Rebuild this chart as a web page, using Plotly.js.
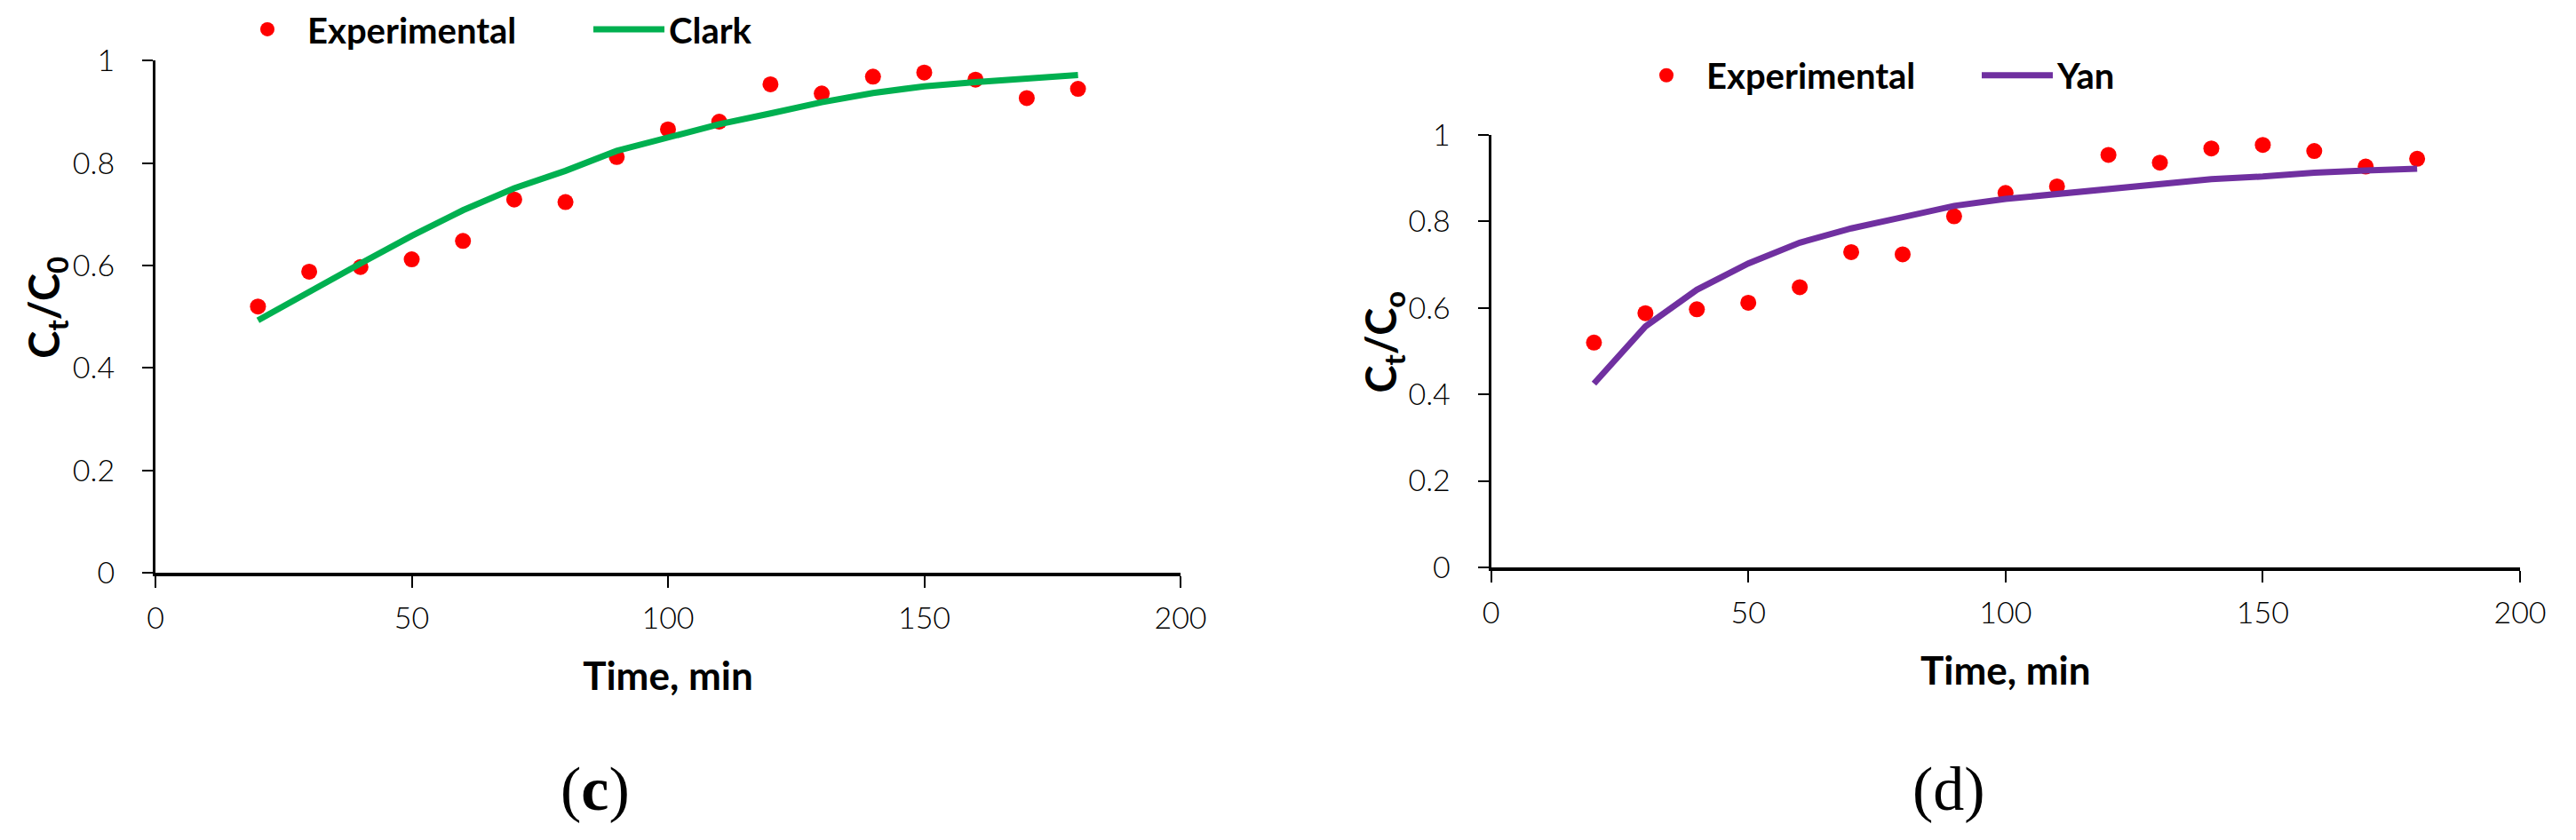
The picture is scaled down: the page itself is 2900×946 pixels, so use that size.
<!DOCTYPE html>
<html>
<head>
<meta charset="utf-8">
<script src="https://cdn.plot.ly/plotly-3.0.1.min.js"></script>
<style>html,body{margin:0;padding:0;background:#fff;}#chart{width:2900px;height:946px;}</style>
</head>
<body>
<div id="chart"></div>
<script>
// Data
const time = [20, 30, 40, 50, 60, 70, 80, 90, 100, 110, 120, 130, 140, 150, 160, 170, 180];
const experimental = [0.520, 0.588, 0.597, 0.612, 0.648, 0.729, 0.724, 0.812, 0.866, 0.881, 0.954, 0.936, 0.969, 0.977, 0.963, 0.927, 0.945];
const clark = [0.493, 0.550, 0.604, 0.658, 0.708, 0.751, 0.785, 0.824, 0.851, 0.876, 0.897, 0.919, 0.937, 0.950, 0.958, 0.965, 0.972];
const yan = [0.425, 0.557, 0.642, 0.703, 0.751, 0.784, 0.810, 0.836, 0.852, 0.864, 0.875, 0.889, 0.898, 0.904, 0.913, 0.918, 0.922];
const xTicks = [0, 50, 100, 150, 200];
const yTicks = [0, 0.2, 0.4, 0.6, 0.8, 1];
const yTickText = ["0", "0.2", "0.4", "0.6", "0.8", "1"];
const xTitle = "Time, min";
const yTitleC = "C<sub>t</sub>/C<sub>0</sub>";
const yTitleD = "C<sub>t</sub>/C<sub>o</sub>";
const panelLabels = ["(<b>c</b>)", "(d)"];

const RED = "#FF0000", GREEN = "#00B050", PURPLE = "#7030A0";
const FAM = "Lato, 'Open Sans', sans-serif";
const tickFont = {family: FAM, size: 34, color: "#000", weight: 300};
const legendFont = {family: FAM, size: 40, color: "#000", weight: 700};
const titleFont = {family: FAM, size: 44, color: "#000", weight: 700};
const yTitleFont = {family: FAM, size: 47, color: "#000", weight: 700};

const traces = [
  {x: time, y: experimental, type: "scatter", mode: "markers", name: "Experimental",
   marker: {color: RED, size: 18}, xaxis: "x", yaxis: "y", legend: "legend"},
  {x: time, y: clark, type: "scatter", mode: "lines", name: "Clark",
   line: {color: GREEN, width: 7}, xaxis: "x", yaxis: "y", legend: "legend"},
  {x: time, y: experimental, type: "scatter", mode: "markers", name: "Experimental",
   marker: {color: RED, size: 18}, xaxis: "x2", yaxis: "y2", legend: "legend2"},
  {x: time, y: yan, type: "scatter", mode: "lines", name: "Yan",
   line: {color: PURPLE, width: 7}, xaxis: "x2", yaxis: "y2", legend: "legend2"}
];

function xAxis(domain, anchor) {
  return {
    domain: domain, anchor: anchor, range: [0, 200], tickvals: xTicks,
    showline: true, linecolor: "#000", linewidth: 4, mirror: false,
    ticks: "outside", ticklen: 13, tickwidth: 2, tickcolor: "#000",
    showgrid: false, zeroline: false, tickfont: tickFont, ticklabelstandoff: 5,
    title: {text: xTitle, font: titleFont, standoff: 33},
    automargin: false
  };
}
function yAxis(domain, anchor) {
  return {
    domain: domain, anchor: anchor, range: [0, 1], tickvals: yTicks, ticktext: yTickText,
    showline: true, linecolor: "#000", linewidth: 3,
    ticks: "outside", ticklen: 12, tickwidth: 2, tickcolor: "#000",
    showgrid: false, zeroline: false, tickfont: tickFont, ticklabelstandoff: 24,
    automargin: false
  };
}

const yDomC = [(946-644)/946, (946-65.6)/946];
const yDomD = [(946-638)/946, (946-149.5)/946];

const layout = {
  width: 2900, height: 946,
  margin: {l: 0, r: 0, t: 0, b: 0},
  paper_bgcolor: "#fff", plot_bgcolor: "#fff",
  showlegend: true,
  xaxis: xAxis([175/2900, 1329/2900], "y"),
  yaxis: yAxis(yDomC, "x"),
  xaxis2: xAxis([1678.6/2900, 2837/2900], "y2"),
  yaxis2: yAxis(yDomD, "x2"),
  legend: {orientation: "h", x: 256/2900, y: 1 - 30/946, xanchor: "left", yanchor: "middle",
           font: legendFont, itemwidth: 80, entrywidth: 312, entrywidthmode: "pixels",
           bgcolor: "rgba(0,0,0,0)", borderwidth: 0, tracegroupgap: 0},
  legend2: {orientation: "h", x: 1831/2900, y: 1 - 82/946, xanchor: "left", yanchor: "middle",
           font: legendFont, itemwidth: 80, entrywidth: 300, entrywidthmode: "pixels",
           bgcolor: "rgba(0,0,0,0)", borderwidth: 0, tracegroupgap: 0},
  annotations: [
    {text: yTitleC, xref: "paper", yref: "paper", x: 53/2900, y: (yDomC[0] + yDomC[1]) / 2,
     xanchor: "center", yanchor: "middle", textangle: -90, yshift: 10, showarrow: false, font: yTitleFont},
    {text: yTitleD, xref: "paper", yref: "paper", x: 1558/2900, y: (yDomD[0] + yDomD[1]) / 2,
     xanchor: "center", yanchor: "middle", textangle: -90, yshift: 10, showarrow: false, font: yTitleFont},
    {text: panelLabels[0], xref: "paper", yref: "paper", x: 670/2900, y: 1 - 888/946,
     xanchor: "center", yanchor: "middle", showarrow: false,
     font: {family: "'Liberation Serif', 'DejaVu Serif', serif", size: 70, color: "#000"}},
    {text: panelLabels[1], xref: "paper", yref: "paper", x: 2194/2900, y: 1 - 888/946,
     xanchor: "center", yanchor: "middle", showarrow: false,
     font: {family: "'Liberation Serif', 'DejaVu Serif', serif", size: 70, color: "#000"}}
  ]
};

Plotly.newPlot("chart", traces, layout, {displayModeBar: false, staticPlot: true});
</script>
</body>
</html>
